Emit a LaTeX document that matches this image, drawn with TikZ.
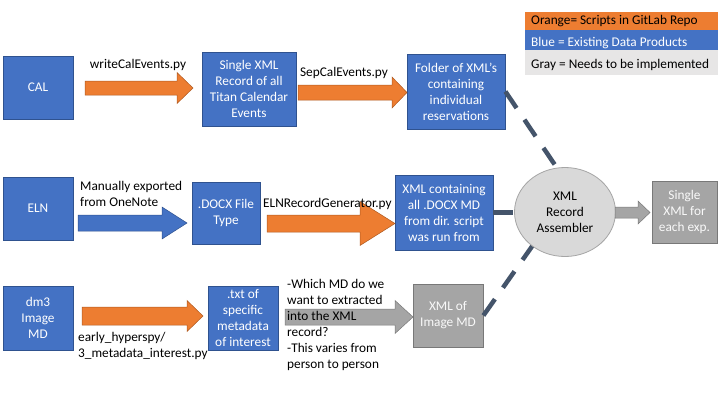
\documentclass[tikz,border=0pt]{standalone}
\usepackage{fontspec}
\setmainfont{Carlito}
\usetikzlibrary{shapes.geometric}
\definecolor{oblue}{HTML}{4472C4}
\definecolor{obluedk}{HTML}{2F528F}
\definecolor{oorange}{HTML}{ED7D31}
\definecolor{oorangedk}{HTML}{AE5A21}
\definecolor{ogray}{HTML}{A5A5A5}
\definecolor{ograydk}{HTML}{787878}
\definecolor{olight}{HTML}{E7E6E6}
\definecolor{odash}{HTML}{44546A}
\definecolor{oell}{HTML}{D9D9D9}
\newcommand{\barrow}[7]{%
  \draw[#1] (#2,{#4-#5}) -- ({#3-#7},{#4-#5}) -- ({#3-#7},{#4-#6}) -- (#3,#4)
    -- ({#3-#7},{#4+#6}) -- ({#3-#7},{#4+#5}) -- (#2,{#4+#5}) -- cycle;}
\tikzset{
  every node/.style={font=\fontsize{13.3}{16}\selectfont, inner sep=0pt},
  bluebox/.style={draw=obluedk, fill=oblue, line width=0.8pt, text=white, align=center},
  graybox/.style={draw=ograydk, fill=ogray, line width=0.8pt, text=white!95!gray, align=center},
  oarrow/.style={fill=oorange, draw=oorangedk, line width=0.5pt},
  barr/.style={fill=oblue, draw=obluedk, line width=0.5pt},
  garr/.style={fill=ogray, draw=ograydk, line width=0.5pt},
  lbl/.style={text=black, align=left},
  dashconn/.style={draw=odash, line width=4.5pt, dash pattern=on 20pt off 14pt},
}
\begin{document}
\begin{tikzpicture}[x=1pt,y=-1pt]
\useasboundingbox (0,0) rectangle (720,405);
% legend
\fill[oorange] (525,12) rectangle (718,30);
\fill[oblue] (525,30) rectangle (718,50);
\fill[olight] (525,50) rectangle (718,75);
\node[anchor=west] (lg1) at (531,21.5) {Orange= Scripts in GitLab Repo};
\node[anchor=west, text=white] (lg2) at (531,43) {Blue = Existing Data Products};
\node[anchor=west] (lg3) at (531,65) {Gray = Needs to be implemented};
% boxes
\node[bluebox, minimum width=70pt, minimum height=63pt] (cal) at (38,87.5) {CAL};
\node[bluebox, minimum width=94pt, minimum height=74pt] (single) at (249,89) {Single XML\\Record of all\\Titan Calendar\\Events};
\node[bluebox, minimum width=98pt, minimum height=75pt] (folder) at (456,91.5) {Folder of XML’s\\containing\\individual\\reservations};
\node[bluebox, minimum width=70pt, minimum height=63pt] (eln) at (38,208.5) {ELN};
\node[bluebox, minimum width=68pt, minimum height=62pt] (docx) at (226,213) {.DOCX File\\Type};
\node[bluebox, minimum width=98pt, minimum height=75pt] (xmlc) at (444,212.5) {XML containing\\all .DOCX MD\\from dir. script\\was run from};
\node[bluebox, minimum width=70pt, minimum height=64pt] (dm3) at (38,318) {dm3\\Image\\MD};
\node[bluebox, minimum width=70pt, minimum height=64pt] (txt) at (243,318) {.txt of\\specific\\metadata\\of interest};
\node[graybox, minimum width=70pt, minimum height=63pt] (ximg) at (448,315.5) {XML of\\Image MD};
\node[graybox, minimum width=65pt, minimum height=62pt] (out) at (684.5,212) {Single\\XML for\\each exp.};
% dashed connectors
\draw[dashconn] (folder.east) -- (557,168) coordinate (asmtop);
\draw[dashconn] (xmlc.east) -- (514,212.5) coordinate (asmleft);
\draw[dashconn] (ximg.east) -- (533,245) coordinate (asmbot);
\node[ellipse, draw=ogray, fill=oell, line width=0.8pt, minimum width=101pt, minimum height=89pt, align=center] (asm) at (565,212) {XML\\Record\\Assembler};
% block arrows
\barrow{oarrow}{85}{193}{88}{7}{15.5}{16}
\barrow{oarrow}{298}{407}{92.5}{7.5}{15.5}{15}
\barrow{barr}{78}{187}{223}{8}{16}{25}
\barrow{oarrow}{267}{395}{223.5}{8.5}{22}{35}
\barrow{oarrow}{82}{203}{316}{9}{15.5}{16}
\barrow{garr}{285}{413}{317}{8}{16.5}{18}
\barrow{garr}{615}{650}{212.5}{5.5}{11.5}{12}
% labels
\node[lbl] (l1) at (138,65) {writeCalEvents.py};
\node[lbl] (l2) at (344,73) {SepCalEvents.py};
\node[lbl, anchor=north west] (l3) at (80,181) {Manually exported\\from OneNote};
\node[lbl, anchor=west] (l4) at (263,204) {ELNRecordGenerator.py};
\node[lbl, anchor=north west] (l5) at (78,332) {early\_hyperspy/\\3\_metadata\_interest.py};
\node[lbl, anchor=north west] (l6) at (287,279) {-Which MD do we\\want to extracted\\into the XML\\record?\\-This varies from\\person to person};
\end{tikzpicture}
\end{document}
